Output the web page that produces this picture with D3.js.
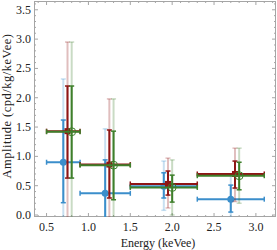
<!DOCTYPE html>
<html>
<head>
<meta charset="utf-8">
<script src="https://cdn.jsdelivr.net/npm/d3@7"></script>
<style>
body { margin: 0; background: #fff; }
text { font-family: "Liberation Serif", "Times New Roman", serif; fill: #222; }
</style>
</head>
<body>
<div class="chart"></div>
<script>
// energy bins (keVee)
const binLo = [0.5, 0.9, 1.5, 2.3];
const binHi = [0.9, 1.5, 2.3, 3.1];

// blue series
const blueX = [0.7, 1.2, 1.9, 2.7];
const blueY = [0.90, 0.37, 0.49, 0.27];
const blueStatLo = [0.21, -0.4, 0.29, 0.05];
const blueStatHi = [1.62, 0.94, 0.72, 0.51];
const blueTotLo = [-0.6, -0.6, 0.08, -0.3];
const blueTotHi = [2.32, 1.47, 0.92, 0.68];

// red series
const redX = [0.75, 1.25, 1.95, 2.75];
const redY = [1.43, 0.86, 0.53, 0.70];
const redStatLo = [0.63, 0.29, 0.34, 0.46];
const redStatHi = [2.20, 1.45, 0.75, 0.92];
const redTotLo = [-0.3, -0.3, 0.12, 0.23];
const redTotHi = [2.95, 1.98, 0.97, 1.14];

// green series
const greenX = [0.8, 1.3, 2.0, 2.8];
const greenY = [1.42, 0.85, 0.47, 0.67];
const greenStatLo = [0.63, 0.26, 0.22, 0.43];
const greenStatHi = [2.20, 1.43, 0.68, 0.90];
const greenTotLo = [-0.3, -0.3, 0.0, 0.20];
const greenTotHi = [2.95, 1.98, 0.94, 1.14];

const xTicks = [0.5, 1.0, 1.5, 2.0, 2.5, 3.0];
const yTicks = [0.0, 0.5, 1.0, 1.5, 2.0, 2.5, 3.0, 3.5];

const width = 277;
const height = 250;
const mLeft = 34, mRight = 276, mTop = 1, mBottom = 217;

const svg = d3.select('.chart')
    .append('svg')
    .attr('width', width)
    .attr('height', height);

const x = d3.scaleLinear().domain([0.35, 3.24]).range([mLeft, mRight]);
const y = d3.scaleLinear().domain([-0.034, 3.65]).range([mBottom, mTop]);

svg.append('clipPath').attr('id', 'clip')
    .append('rect')
    .attr('x', mLeft).attr('y', mTop)
    .attr('width', mRight - mLeft).attr('height', mBottom - mTop);

// frame with ticks on all sides
const frameColor = '#a5a5a5';
const minorX = d3.range(0.4, 3.21, 0.1).map(v => +v.toFixed(1));
const minorY = d3.range(0, 3.61, 0.1).map(v => +v.toFixed(1));

function isMajor(v){
    return Math.abs(v * 2 - Math.round(v * 2)) < 1e-6;
}

const frame = svg.append('g');
frame.append('rect')
    .attr('x', mLeft + 0.5).attr('y', mTop + 0.5)
    .attr('width', mRight - mLeft - 1).attr('height', mBottom - mTop - 1)
    .attr('fill', 'none').attr('stroke', frameColor);

minorX.forEach(function(v){
    const len = isMajor(v) ? 4 : 2;
    frame.append('line')
        .attr('x1', x(v)).attr('x2', x(v))
        .attr('y1', mBottom).attr('y2', mBottom - len)
        .attr('stroke', frameColor);
    frame.append('line')
        .attr('x1', x(v)).attr('x2', x(v))
        .attr('y1', mTop).attr('y2', mTop + len)
        .attr('stroke', frameColor);
});
minorY.forEach(function(v){
    const len = isMajor(v) ? 4 : 2;
    frame.append('line')
        .attr('x1', mLeft).attr('x2', mLeft + len)
        .attr('y1', y(v)).attr('y2', y(v))
        .attr('stroke', frameColor);
    frame.append('line')
        .attr('x1', mRight).attr('x2', mRight - len)
        .attr('y1', y(v)).attr('y2', y(v))
        .attr('stroke', frameColor);
});

svg.selectAll('.xlab')
    .data(xTicks)
    .enter()
    .append('text')
    .attr('class', 'xlab')
    .attr('x', d => x(d))
    .attr('y', mBottom + 14)
    .attr('text-anchor', 'middle')
    .attr('font-size', '12px')
    .text(d => d.toFixed(1));

svg.selectAll('.ylab')
    .data(yTicks)
    .enter()
    .append('text')
    .attr('class', 'ylab')
    .attr('x', mLeft - 3)
    .attr('y', d => y(d) + 4)
    .attr('text-anchor', 'end')
    .attr('font-size', '12px')
    .text(d => d.toFixed(1));

svg.append('text')
    .attr('x', 158)
    .attr('y', 247)
    .attr('text-anchor', 'middle')
    .attr('font-size', '12px')
    .text('Energy (keVee)');

svg.append('text')
    .attr('transform', 'translate(11,106) rotate(-90)')
    .attr('text-anchor', 'middle')
    .attr('font-size', '12.5px')
    .attr('letter-spacing', '0.5px')
    .text('Amplitude (cpd/kg/keVee)');

const plot = svg.append('g').attr('clip-path', 'url(#clip)');

function vbar(g, xv, lo, hi, color, opacity){
    g.append('line')
        .attr('x1', x(xv)).attr('x2', x(xv))
        .attr('y1', y(lo)).attr('y2', y(hi))
        .attr('stroke', color).attr('stroke-width', 2)
        .attr('stroke-opacity', opacity);
    [lo, hi].forEach(function(v){
        g.append('line')
            .attr('x1', x(xv) - 2.5).attr('x2', x(xv) + 2.5)
            .attr('y1', y(v)).attr('y2', y(v))
            .attr('stroke', color).attr('stroke-width', 1.5)
            .attr('stroke-opacity', opacity);
    });
}

function drawSeries(xs, ys, statLo, statHi, totLo, totHi, color, marker){
    const g = plot.append('g');
    xs.forEach(function(xv, i){
        vbar(g, xv, totLo[i], totHi[i], color, 0.28);
    });
    xs.forEach(function(xv, i){
        vbar(g, xv, statLo[i], statHi[i], color, 1);
        g.append('line')
            .attr('x1', x(binLo[i])).attr('x2', x(binHi[i]))
            .attr('y1', y(ys[i])).attr('y2', y(ys[i]))
            .attr('stroke', color).attr('stroke-width', 2);
        [binLo[i], binHi[i]].forEach(function(b){
            g.append('line')
                .attr('x1', x(b)).attr('x2', x(b))
                .attr('y1', y(ys[i]) - 2.5).attr('y2', y(ys[i]) + 2.5)
                .attr('stroke', color).attr('stroke-width', 1.5);
        });
        if (marker == 'dot'){
            g.append('circle')
                .attr('cx', x(xv)).attr('cy', y(ys[i])).attr('r', 3.5)
                .attr('fill', color);
        } else if (marker == 'square'){
            g.append('rect')
                .attr('x', x(xv) - 3).attr('y', y(ys[i]) - 3)
                .attr('width', 6).attr('height', 6)
                .attr('fill', color);
        } else {
            g.append('circle')
                .attr('cx', x(xv)).attr('cy', y(ys[i])).attr('r', 4)
                .attr('fill', 'none').attr('stroke', color).attr('stroke-width', 1);
        }
    });
}

drawSeries(blueX, blueY, blueStatLo, blueStatHi, blueTotLo, blueTotHi, '#3b8ecb', 'dot');
drawSeries(redX, redY, redStatLo, redStatHi, redTotLo, redTotHi, '#8e1515', 'square');
drawSeries(greenX, greenY, greenStatLo, greenStatHi, greenTotLo, greenTotHi, '#3e7f2b', 'open');
</script>
</body>
</html>
